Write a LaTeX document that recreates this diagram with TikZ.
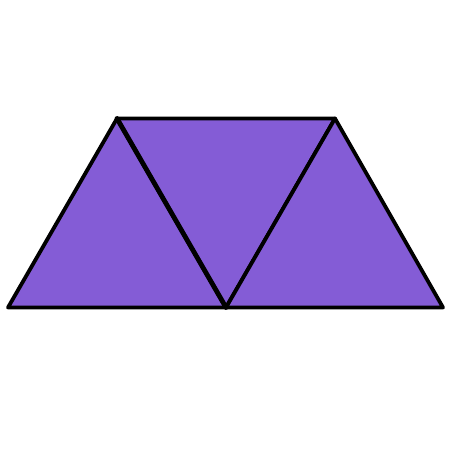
\documentclass[tikz,border=0pt]{standalone}
\definecolor{tri}{RGB}{132,92,214}
\begin{document}
\begin{tikzpicture}[x=1pt,y=1pt,
  tile/.style={fill=tri,draw=black,line width=3.8pt,line join=round},
  seam/.style={draw=black,line width=4.8pt,line cap=round}]
\useasboundingbox (0,0) rectangle (454,470);
\coordinate (BL) at (8,162.5);
\coordinate (BM) at (226,162.5);
\coordinate (BR) at (443,162.5);
\coordinate (TL) at (117,351.5);
\coordinate (TR) at (335,351.5);
\draw[tile] (BL) -- (BM) -- (TL) -- cycle;
\draw[tile] (TL) -- (TR) -- (BM) -- cycle;
\draw[tile] (BM) -- (BR) -- (TR) -- cycle;
\draw[seam] (TL) -- (BM);
\end{tikzpicture}
\end{document}
